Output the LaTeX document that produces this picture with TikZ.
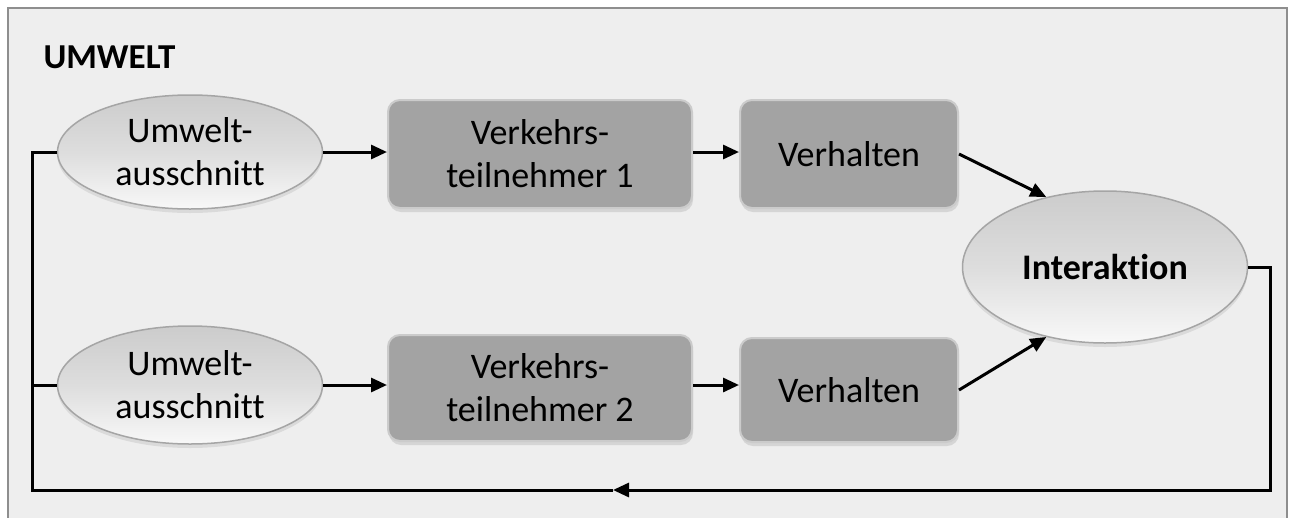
\documentclass[tikz,border=0pt]{standalone}
\usepackage{fontspec}
\setmainfont{Carlito}[Ligatures=NoCommon]
\usetikzlibrary{shapes.geometric,arrows.meta,shadows}

\definecolor{bgpanel}{HTML}{EEEEEE}
\definecolor{framegray}{HTML}{8E8E8E}
\definecolor{boxfill}{HTML}{A3A3A3}
\definecolor{boxrim}{HTML}{CBCBCB}
\definecolor{ovaltop}{HTML}{CCCCCC}
\definecolor{ovalmid}{HTML}{DDDDDD}
\definecolor{ovalbot}{HTML}{F8F8F8}
\definecolor{ovalrim}{HTML}{A5A5A5}

\tikzset{
  labelfont/.style={font=\fontsize{36}{43}\selectfont, align=center, text=black},
  oval/.style={ellipse, labelfont, draw=ovalrim, line width=1.5pt,
    top color=ovaltop, bottom color=ovalbot, middle color=ovalmid,
    drop shadow={opacity=0.18, shadow xshift=0pt, shadow yshift=-4pt},
    inner sep=0pt},
  stepbox/.style={rectangle, rounded corners=12pt, labelfont,
    fill=boxfill, draw=boxrim, line width=2pt,
    drop shadow={opacity=0.22, shadow xshift=1pt, shadow yshift=-4pt},
    inner sep=0pt},
  wire/.style={line width=3pt, draw=black},
  flow/.style={wire, -{Triangle[length=16pt,width=14pt]}},
}

\begin{document}
\begin{tikzpicture}[x=1pt,y=-1pt]
\useasboundingbox (0,0) rectangle (1290,517);
\clip (0,0) rectangle (1290,517);
\fill[white] (0,0) rectangle (1290,517);

% outer panel
\draw[fill=bgpanel, draw=framegray, line width=2.5pt] (8,8) rectangle (1287,540);

\node[anchor=west, font=\fontsize{35}{40}\selectfont\bfseries] (title) at (40,57) {UMWELT};

% upper row
\node[oval, minimum width=265pt, minimum height=114pt] (ua) at (190,152) {Umwelt-\\ausschnitt};
\node[stepbox, minimum width=304pt, minimum height=108pt] (vt1) at (540,154) {Verkehrs-\\teilnehmer 1};
\node[stepbox, minimum width=218pt, minimum height=108pt] (vh1) at (849,154) {Verhalten};

% lower row
\node[oval, minimum width=265pt, minimum height=118pt] (la) at (190,385) {Umwelt-\\ausschnitt};
\node[stepbox, minimum width=304pt, minimum height=106pt] (vt2) at (540,388) {Verkehrs-\\teilnehmer 2};
\node[stepbox, minimum width=218pt, minimum height=104pt] (vh2) at (849,390) {Verhalten};

% interaction
\node[oval, minimum width=285pt, minimum height=152pt, font=\fontsize{36}{40}\selectfont\bfseries] (ia) at (1105,267) {Interaktion};

% feedback loop corners
\coordinate (lb) at (32,490);
\coordinate (rb) at (1270,490);
\coordinate (mid) at (613,490);

% forward flow, kept level with the ovals
\draw[flow] (ua.east) -- (ua.east -| vt1.west);
\draw[flow] (vt1.east |- ua.east) -- (vh1.west |- ua.east);
\draw[flow] (vh1.east) -- (ia.130);
\draw[flow] (la.east) -- (la.east -| vt2.west);
\draw[flow] (vt2.east |- la.east) -- (vh2.west |- la.east);
\draw[flow] (vh2.east) -- (ia.-130);

% return path
\draw[flow] (ia.east) -| (rb) -- (mid);
\draw[wire] (mid) -- (lb) |- (ua.west);
\draw[wire] (lb |- la.west) -- (la.west);
\end{tikzpicture}
\end{document}
